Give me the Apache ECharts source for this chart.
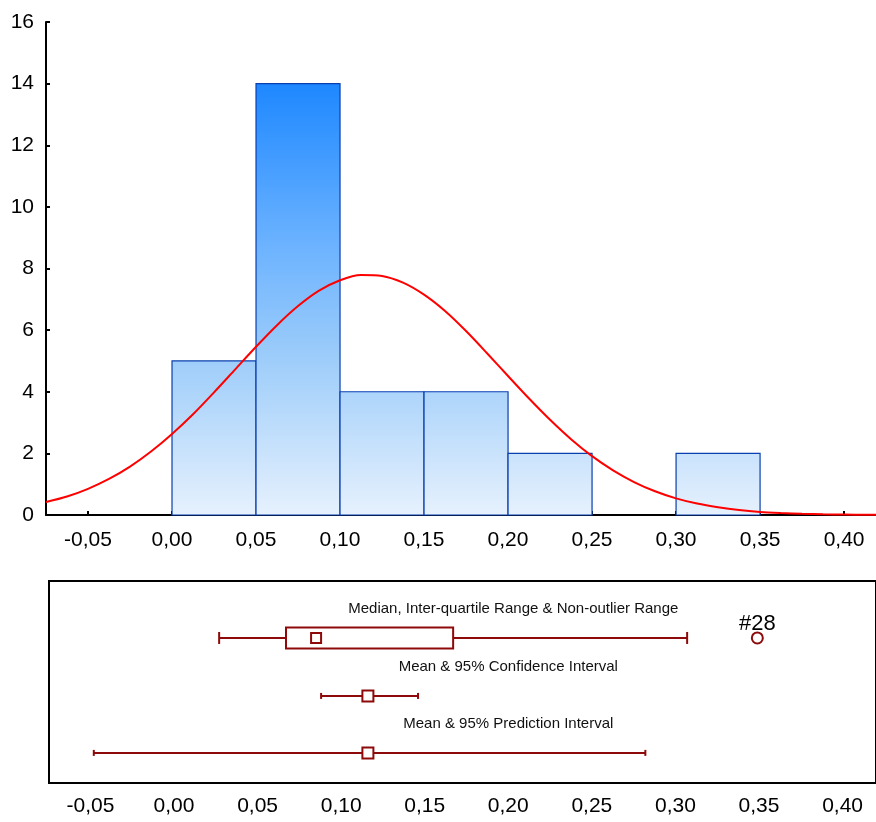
<!DOCTYPE html>
<html>
<head>
<meta charset="utf-8">
<title>Histogram with box plot</title>
<script src="https://cdn.jsdelivr.net/npm/echarts@6/dist/echarts.min.js"></script>
<style>
  html, body { margin: 0; padding: 0; background: #fff; }
  #chart { width: 876px; height: 822px; }
</style>
</head>
<body>
<div id="chart"></div>
<script>
// Histogram bins: lower edge, upper edge, count
const binLow = [0.00, 0.05, 0.10, 0.15, 0.20, 0.30];
const binHigh = [0.05, 0.10, 0.15, 0.20, 0.25, 0.35];
const binCount = [5, 14, 4, 4, 2, 2];

// Fitted normal curve, sampled along x
const curveX = [-0.075, -0.0625, -0.05, -0.0375, -0.025, -0.0125, 0.00, 0.0125, 0.025, 0.0375,
                0.05, 0.0625, 0.075, 0.0875, 0.10, 0.1125, 0.125, 0.1375, 0.15, 0.1625,
                0.175, 0.1875, 0.20, 0.2125, 0.225, 0.2375, 0.25, 0.2625, 0.275, 0.2875,
                0.30, 0.3125, 0.325, 0.3375, 0.35, 0.3625, 0.375, 0.3875, 0.40, 0.4125, 0.425];
const curveY = [0.42, 0.60, 0.85, 1.17, 1.57, 2.06, 2.63, 3.27, 3.98, 4.72,
                5.46, 6.16, 6.78, 7.28, 7.62, 7.79, 7.76, 7.54, 7.15, 6.62,
                5.97, 5.25, 4.51, 3.78, 3.09, 2.46, 1.91, 1.45, 1.07, 0.77,
                0.54, 0.37, 0.25, 0.16, 0.10, 0.065, 0.04, 0.023, 0.013, 0.0075, 0.004];

// Box plot: non-outlier min, Q1, median, Q3, non-outlier max
const boxStats = [0.027, 0.067, 0.085, 0.167, 0.307];
// Outlier
const outlierValue = 0.349;
const outlierName = '#28';
// Mean with 95% confidence and prediction intervals: low, mean, high
const confInterval = [0.088, 0.116, 0.146];
const predInterval = [-0.048, 0.116, 0.282];

const rowTitles = [
  'Median, Inter-quartile Range & Non-outlier Range',
  'Mean & 95% Confidence Interval',
  'Mean & 95% Prediction Interval'
];
const tickValues = [-0.05, 0.00, 0.05, 0.10, 0.15, 0.20, 0.25, 0.30, 0.35, 0.40];
const yTicks = [0, 2, 4, 6, 8, 10, 12, 14, 16];

// Vertical layout of the lower panel (fractions of its height)
const ROW_MARK = [0.718, 0.431, 0.149];
const ROW_TITLE = [0.861, 0.574, 0.292];
const TITLE_X = [0.203, 0.2, 0.2];

const DARK_RED = '#8E0A0A';
const FONT = '"Liberation Sans", Arial, sans-serif';
const fmt = v => v.toFixed(2).replace('.', ',');

const chart = echarts.init(document.getElementById('chart'), null, { renderer: 'canvas' });

function histItem(params, api) {
  const i = params.dataIndex;
  const p0 = api.coord([binLow[i], binCount[i]]);
  const p1 = api.coord([binHigh[i], 0]);
  const yTop = api.coord([0, 14])[1];
  const yBot = api.coord([0, 0])[1];
  const fill = new echarts.graphic.LinearGradient(0, yTop, 0, yBot, [
    { offset: 0, color: '#1E88FF' },
    { offset: 0.37, color: '#6BB2FF' },
    { offset: 0.62, color: '#9ACBFA' },
    { offset: 1, color: '#E6F1FD' }
  ], true);
  return {
    type: 'rect',
    shape: { x: p0[0], y: p0[1], width: p1[0] - p0[0], height: p1[1] - p0[1] },
    style: { fill: fill, stroke: '#0A3FB0', lineWidth: 1.2 }
  };
}

function whiskerGroup(api, lo, hi, yv, capH) {
  const a = api.coord([lo, yv]);
  const b = api.coord([hi, yv]);
  const st = { stroke: DARK_RED, lineWidth: 2 };
  return [
    { type: 'line', shape: { x1: a[0], y1: a[1], x2: b[0], y2: b[1] }, style: st },
    { type: 'line', shape: { x1: a[0], y1: a[1] - capH, x2: a[0], y2: a[1] + capH }, style: st },
    { type: 'line', shape: { x1: b[0], y1: b[1] - capH, x2: b[0], y2: b[1] + capH }, style: st }
  ];
}

function squareAt(api, xv, yv, size) {
  const c = api.coord([xv, yv]);
  return {
    type: 'rect',
    shape: { x: c[0] - size / 2, y: c[1] - size / 2, width: size, height: size },
    style: { fill: '#fff', stroke: DARK_RED, lineWidth: 2 }
  };
}

function boxItem(params, api) {
  const [mn, q1, med, q3, mx] = boxStats;
  const yv = ROW_MARK[0];
  const c1 = api.coord([q1, yv]);
  const c3 = api.coord([q3, yv]);
  const h = 21;
  const lower = whiskerGroup(api, mn, q1, yv, 6);
  const upper = whiskerGroup(api, q3, mx, yv, 6);
  return {
    type: 'group',
    children: [
      lower[0], lower[1],
      upper[0], upper[2],
      { type: 'rect', shape: { x: c1[0], y: c1[1] - h / 2, width: c3[0] - c1[0], height: h },
        style: { fill: '#fff', stroke: DARK_RED, lineWidth: 2 } },
      squareAt(api, med, yv, 10)
    ]
  };
}

function intervalItem(params, api) {
  const row = params.dataIndex === 0 ? confInterval : predInterval;
  const yv = ROW_MARK[params.dataIndex + 1];
  return {
    type: 'group',
    children: [
      ...whiskerGroup(api, row[0], row[2], yv, 3),
      squareAt(api, row[1], yv, 11)
    ]
  };
}

function titleItem(params, api) {
  const i = params.dataIndex;
  const c = api.coord([TITLE_X[i], ROW_TITLE[i]]);
  return {
    type: 'text',
    x: c[0], y: c[1],
    style: {
      text: rowTitles[i],
      font: '15px ' + FONT,
      fill: '#111',
      align: 'center',
      verticalAlign: 'middle'
    }
  };
}

const option = {
  animation: false,
  backgroundColor: '#fff',
  grid: [
    { left: 46, right: 0, top: 22, bottom: 307 },
    { left: 49, right: -3, top: 581, bottom: 39, show: true, borderColor: '#000', borderWidth: 2, backgroundColor: 'transparent' }
  ],
  xAxis: [
    {
      type: 'value', gridIndex: 0, min: -0.075, max: 0.419,
      splitLine: { show: false },
      axisLine: { show: true, onZero: false, lineStyle: { color: '#000', width: 2 } },
      axisTick: { show: true, inside: true, length: 4, customValues: tickValues, lineStyle: { color: '#000', width: 2 } },
      axisLabel: { customValues: tickValues, formatter: fmt, color: '#000', fontSize: 21, fontFamily: FONT, margin: 15 }
    },
    {
      type: 'value', gridIndex: 1, min: -0.0748, max: 0.42,
      splitLine: { show: false },
      axisLine: { show: false, onZero: false },
      axisTick: { show: false },
      axisLabel: { customValues: tickValues, formatter: fmt, color: '#000', fontSize: 21, fontFamily: FONT, margin: 13 }
    }
  ],
  yAxis: [
    {
      type: 'value', gridIndex: 0, min: 0, max: 16,
      splitLine: { show: false },
      axisLine: { show: true, onZero: false, lineStyle: { color: '#000', width: 2 } },
      axisTick: { show: true, inside: true, length: 4, customValues: yTicks, lineStyle: { color: '#000', width: 2 } },
      axisLabel: { customValues: yTicks, color: '#000', fontSize: 21, fontFamily: FONT, margin: 12 }
    },
    {
      type: 'value', gridIndex: 1, min: 0, max: 1,
      show: false, splitLine: { show: false },
      axisLine: { onZero: false }
    }
  ],
  series: [
    {
      type: 'custom', name: 'Histogram', xAxisIndex: 0, yAxisIndex: 0,
      renderItem: histItem,
      data: binCount.map((c, i) => [binLow[i], binHigh[i], c]),
      z: 2
    },
    {
      type: 'line', name: 'Normal fit', xAxisIndex: 0, yAxisIndex: 0,
      data: curveX.map((x, i) => [x, curveY[i]]),
      smooth: 0.3, symbol: 'none',
      lineStyle: { color: '#FF0000', width: 2 },
      z: 5
    },
    {
      type: 'custom', name: 'Box', xAxisIndex: 1, yAxisIndex: 1,
      renderItem: boxItem, data: [boxStats], z: 3
    },
    {
      type: 'custom', name: 'Intervals', xAxisIndex: 1, yAxisIndex: 1,
      renderItem: intervalItem, data: [confInterval, predInterval], z: 3
    },
    {
      type: 'scatter', name: 'Outlier', xAxisIndex: 1, yAxisIndex: 1,
      data: [[outlierValue, ROW_MARK[0]]],
      symbol: 'circle', symbolSize: 11,
      itemStyle: { color: '#fff', borderColor: DARK_RED, borderWidth: 2, opacity: 1 },
      label: {
        show: true, position: 'top', distance: -3, formatter: outlierName,
        color: '#000', opacity: 1, fontSize: 22, fontFamily: FONT
      },
      z: 4
    },
    {
      type: 'custom', name: 'Titles', xAxisIndex: 1, yAxisIndex: 1,
      renderItem: titleItem, data: rowTitles.map((t, i) => [i]), z: 4
    }
  ]
};

chart.setOption(option);
</script>
</body>
</html>
